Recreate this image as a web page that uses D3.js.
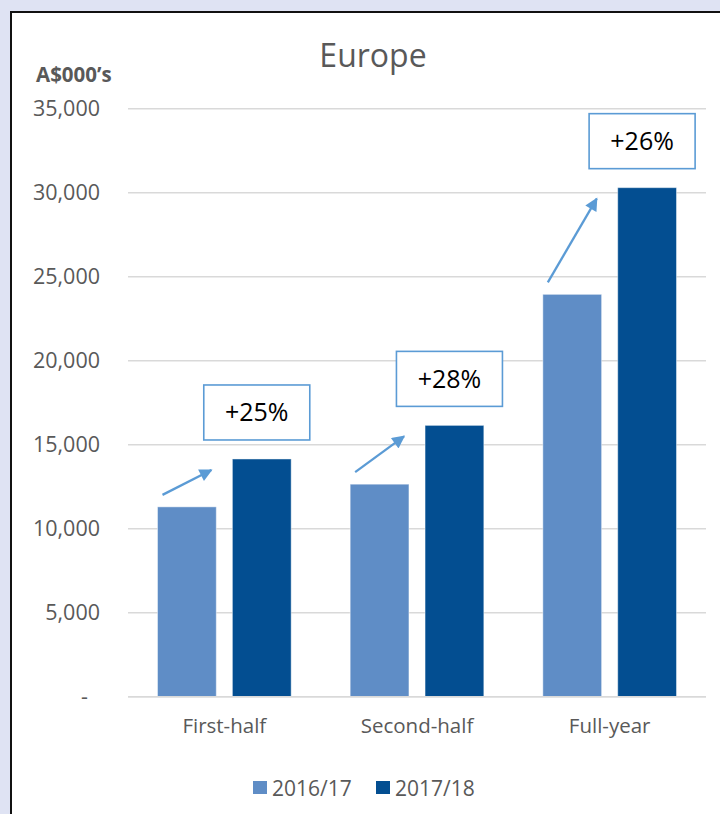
<!DOCTYPE html>
<html>
<head>
<meta charset="utf-8">
<script src="https://cdn.jsdelivr.net/npm/d3@7"></script>
<style>
  html, body { margin: 0; padding: 0; background: #dfe3f3; }
  svg { display: block; }
  text { font-family: "Open Sans", "Noto Sans", sans-serif; }
</style>
</head>
<body>
<svg id="chart" width="720" height="814"></svg>
<script>
// Revenue by period, A$000's
const categories = ["First-half", "Second-half", "Full-year"];
const seriesNames = ["2016/17", "2017/18"];
const values2016 = [11300, 12650, 23950];
const values2017 = [14150, 16150, 30300];
const growthLabels = ["+25%", "+28%", "+26%"];
const yTicks = [0, 5000, 10000, 15000, 20000, 25000, 30000, 35000];

const colors = ["#5f8dc6", "#034e91"];
const accent = "#5b9bd5";
const textGrey = "#595959";

const svg = d3.select("#chart");
const W = 720, H = 814;

// page background and chart frame
svg.append("rect").attr("width", W).attr("height", H).attr("fill", "#dfe3f3");
svg.append("rect")
  .attr("x", 11).attr("y", 12).attr("width", W + 20).attr("height", H + 20)
  .attr("fill", "#ffffff").attr("stroke", "#111111").attr("stroke-width", 2);

const plot = { left: 128, right: 706, top: 108.7, bottom: 696.7 };

const x = d3.scaleBand().domain(categories).range([plot.left, plot.right]).paddingInner(0).paddingOuter(0);
const groupPad = 29.5;
const x1 = d3.scaleBand().domain(seriesNames)
  .range([groupPad, x.bandwidth() - groupPad]).paddingInner(0.215).paddingOuter(0);
const y = d3.scaleLinear().domain([0, 35000]).range([plot.bottom, plot.top]);

// title
svg.append("text").attr("x", 373).attr("y", 67).attr("text-anchor", "middle")
  .attr("font-size", 32).attr("fill", textGrey).text("Europe");

// unit label
svg.append("text").attr("x", 36).attr("y", 82)
  .attr("font-size", 20.5).attr("font-weight", "bold").attr("fill", textGrey).text("A$000’s");

// gridlines
const grid = svg.append("g");
grid.selectAll("line").data(yTicks).join("line")
  .attr("x1", plot.left).attr("x2", plot.right)
  .attr("y1", d => y(d)).attr("y2", d => y(d))
  .attr("stroke", "#d9d9d9").attr("stroke-width", 1.5);

// y axis labels
const yAxis = d3.axisLeft(y).tickValues(yTicks).tickSize(0).tickPadding(0)
  .tickFormat(d => d === 0 ? "-" : d3.format(",")(d));
const gy = svg.append("g").attr("transform", `translate(100,0)`).call(yAxis);
gy.select(".domain").remove();
gy.selectAll("text").attr("font-size", 21.5).attr("fill", textGrey)
  .attr("font-family", '"Open Sans", sans-serif')
  .attr("dx", d => d === 0 ? -12 : 0);

// bars
const rows = categories.map((c, i) => ({ cat: c, vals: [values2016[i], values2017[i]] }));
const groups = svg.append("g").selectAll("g").data(rows).join("g")
  .attr("transform", d => `translate(${x(d.cat)},0)`);
groups.selectAll("rect").data(d => d.vals.map((v, j) => ({ key: seriesNames[j], v, j })))
  .join("rect")
  .attr("x", d => x1(d.key))
  .attr("width", x1.bandwidth())
  .attr("y", d => y(d.v))
  .attr("height", d => y(0) - y(d.v))
  .attr("fill", d => colors[d.j])
  .attr("stroke", "#ffffff").attr("stroke-opacity", 0.45).attr("stroke-width", 1);

// baseline over bars
svg.append("line").attr("x1", plot.left).attr("x2", plot.right)
  .attr("y1", y(0)).attr("y2", y(0)).attr("stroke", "#d9d9d9").attr("stroke-width", 1.5);

// x axis labels
const xAxis = d3.axisBottom(x).tickSize(0).tickPadding(0);
const gx = svg.append("g").attr("transform", `translate(0,${y(0) + 22})`).call(xAxis);
gx.select(".domain").remove();
gx.selectAll("text").attr("font-size", 20.5).attr("fill", textGrey)
  .attr("font-family", '"Open Sans", sans-serif');

// growth annotations: arrow from prior-year bar toward current-year bar, boxed label above
const defs = svg.append("defs");
defs.append("marker").attr("id", "arrowhead")
  .attr("viewBox", "0 0 10 10").attr("refX", 9).attr("refY", 5)
  .attr("markerWidth", 6.2).attr("markerHeight", 5.6).attr("orient", "auto")
  .attr("markerUnits", "strokeWidth")
  .append("path").attr("d", "M0,0 L10,5 L0,10 Z").attr("fill", accent);

const ann = svg.append("g");
rows.forEach((d, i) => {
  const xl = x(d.cat) + x1(seriesNames[0]);
  const xd = x(d.cat) + x1(seriesNames[1]);
  const bw = x1.bandwidth();
  ann.append("line")
    .attr("x1", xl + 5).attr("y1", y(d.vals[0]) - 12)
    .attr("x2", xd - 21).attr("y2", y(d.vals[1]) + 11)
    .attr("stroke", accent).attr("stroke-width", 2.3)
    .attr("marker-end", "url(#arrowhead)");
  const bwBox = 106, bh = 55;
  const cx = xd + bw / 2 - 5;
  const bottom = y(d.vals[1]) - 19;
  ann.append("rect")
    .attr("x", cx - bwBox / 2).attr("y", bottom - bh)
    .attr("width", bwBox).attr("height", bh)
    .attr("fill", "#ffffff").attr("stroke", accent).attr("stroke-width", 1.6);
  ann.append("text")
    .attr("x", cx).attr("y", bottom - bh / 2 + 9)
    .attr("text-anchor", "middle").attr("font-size", 25).attr("fill", "#000000")
    .text(growthLabels[i]);
});

// legend
const legend = svg.append("g").attr("transform", "translate(253,781)");
const legendX = [0, 123];
seriesNames.forEach((s, j) => {
  const g = legend.append("g").attr("transform", `translate(${legendX[j]},0)`);
  g.append("rect").attr("width", 14).attr("height", 13).attr("fill", colors[j]);
  g.append("text").attr("x", 19).attr("y", 15)
    .attr("font-size", 21).attr("fill", textGrey).text(s);
});
</script>
</body>
</html>
